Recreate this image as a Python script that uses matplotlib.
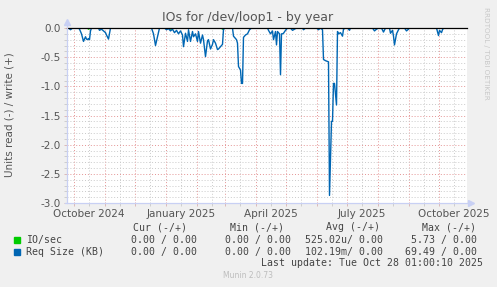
import matplotlib
matplotlib.use("Agg")
import matplotlib.pyplot as plt
import pandas as pd

# day offsets from the left edge of the graph (400 days shown)
req_day = [0, 2, 4, 6, 12, 13, 15, 17, 19, 20, 21, 22, 23, 24, 25,
           32, 33, 35, 37, 39, 40, 42, 44, 85, 87, 89, 91, 92, 93,
           98, 100, 102, 104, 106, 108, 110, 112, 114, 116, 117, 119, 121, 122,
           124, 126, 127, 129, 131, 132, 134, 136, 137, 139, 141, 142, 144, 146,
           147, 149, 151, 152, 154, 156, 157, 159, 166, 167, 170, 171, 172, 174,
           175, 176, 177, 179, 181, 183, 185, 201, 202, 204, 206, 207, 209, 210,
           211, 213, 214, 215, 216, 217, 219, 221, 224, 226, 228, 230, 236, 237,
           239, 250, 252, 254, 256, 257, 259, 262, 263, 265, 266, 267, 268, 270,
           271, 272, 274, 276, 277, 279, 281, 283, 284, 285, 306, 308, 310, 312,
           315, 317, 319, 323, 324, 326, 327, 328, 330, 332, 333, 338, 340, 342,
           343, 370, 372, 373, 375, 376, 377, 400]
req_read = [0, 0, -0.03, 0, 0, -0.02, -0.1, -0.23, -0.15, -0.19, -0.2, -0.18, -0.2, -0.05, 0,
            0, -0.04, -0.02, -0.05, -0.08, -0.12, -0.19, 0, 0, -0.1, -0.3, -0.15, -0.08, 0,
            0, -0.03, -0.01, -0.05, -0.02, -0.08, -0.04, -0.1, -0.05, -0.12, -0.32, -0.09, -0.23, -0.03,
            -0.23, -0.06, -0.15, -0.1, -0.23, -0.06, -0.26, -0.12, -0.2, -0.49, -0.22, -0.2, -0.36, -0.28,
            -0.2, -0.26, -0.37, -0.36, -0.32, -0.28, -0.02, 0, 0, -0.14, -0.2, -0.26, -0.66, -0.72,
            -0.95, -0.95, -0.16, -0.12, -0.1, -0.03, 0, 0, -0.04, -0.1, -0.05, -0.2, -0.06, -0.29,
            -0.06, -0.1, -0.8, -0.1, -0.1, -0.09, -0.04, 0, 0, -0.04, -0.02, 0, 0, -0.03,
            0, 0, -0.03, 0, -0.03, -0.54, -0.56, -0.58, -2.87, -1.6, -1.6, -0.95, -0.95, -1.32,
            -0.06, -0.1, -0.08, -0.14, -0.02, 0, 0, -0.04, 0, 0, 0, -0.05, -0.02, 0,
            0, -0.07, 0, 0, -0.09, -0.04, -0.14, -0.29, -0.1, -0.03, 0, 0, -0.05, -0.02,
            0, 0, -0.13, -0.04, -0.08, -0.03, 0, 0]

io_day = [0, 21, 22, 24, 103, 104, 106, 155, 156, 158, 400]
io_read = [0, 0, -0.02, 0, 0, -0.02, 0, 0, -0.02, 0, 0]

base = pd.Timestamp("2024-09-23 12:00")
req_dates = base + pd.to_timedelta(req_day, unit="D")
io_dates = base + pd.to_timedelta(io_day, unit="D")

month_starts = pd.date_range("2024-10-01", "2025-10-01", freq="MS")
mid_months = month_starts + pd.Timedelta(days=15)
mid_labels = [d.strftime("%B %Y") if d.month in (1, 4, 7, 10) else "" for d in mid_months]

legend_rows = ["IO/sec", "Req Size (KB)"]
legend_colors = ["#00CC00", "#0066B3"]
cur_vals = ["0.00 / 0.00", "0.00 / 0.00"]
min_vals = ["0.00 / 0.00", "0.00 / 0.00"]
avg_vals = ["525.02u/ 0.00", "102.19m/ 0.00"]
max_vals = ["5.73 / 0.00", "69.49 / 0.00"]

W, H = 497, 287
fig = plt.figure(figsize=(W / 100, H / 100), dpi=100, facecolor="#F0F0F0")
ax = fig.add_axes([66.5 / W, 1 - 203 / H, 400 / W, 175 / H])
ax.set_facecolor("white")

def fx(x):
    return x / W

def fy(y):
    return 1 - y / H

ax.plot(io_dates, io_read, color="#00CC00", lw=1.0)
ax.plot(req_dates, req_read, color="#0066B3", lw=1.0)
ax.axhline(0, color="black", lw=0.9, clip_on=False)

ax.set_xlim(base, base + pd.Timedelta(days=400))
ax.set_ylim(-3.0, 0.0)

# y grid
ax.set_yticks([-3.0, -2.5, -2.0, -1.5, -1.0, -0.5, 0.0])
ax.set_yticklabels(["-3.0", "-2.5", "-2.0", "-1.5", "-1.0", "-0.5", "0.0"])
ax.set_yticks([v / 10 for v in range(-30, 1)], minor=True)
# x grid
ax.set_xticks(month_starts)
ax.set_xticklabels([""] * len(month_starts))
ax.set_xticks(mid_months, minor=True)
ax.set_xticklabels(mid_labels, minor=True)

ax.grid(which="minor", color="#CACACA", lw=0.7, ls=(0, (1, 2)))
ax.grid(which="major", color="#E49494", lw=0.7, ls=(0, (1, 2)))
ax.set_axisbelow(True)

ax.tick_params(which="both", length=2.5, width=0.6, color="#D8B0B0", labelsize=7.5,
               labelcolor="#555555", pad=1.5)
ax.tick_params(axis="x", which="minor", color="#C8C8C8", pad=2)
ax.tick_params(axis="y", which="minor", length=2, color="#C8C8C8")

for s in ax.spines.values():
    s.set_visible(False)

axis_col = "#C8D0F4"
ax.plot([0, 0], [0, 1.03], transform=ax.transAxes, color=axis_col, lw=0.9, clip_on=False)
ax.plot([-0.005, 1.01], [0, 0], transform=ax.transAxes, color=axis_col, lw=0.9, clip_on=False)
ax.plot([0], [1.035], marker="^", ms=4.5, color=axis_col, transform=ax.transAxes, clip_on=False)
ax.plot([1.012], [0], marker=">", ms=4.5, color=axis_col, transform=ax.transAxes, clip_on=False)

fig.text(fx(10), fy(115), "Units read (-) / write (+)", rotation=90, ha="center", va="center",
         fontsize=7.5, color="#555555")
fig.text(fx(248), fy(18), "IOs for /dev/loop1 - by year", ha="center", va="center",
         fontsize=9, color="#555555")
fig.text(fx(486), fy(53), "RRDTOOL / TOBI OETIKER", rotation=270, ha="center", va="center",
         fontsize=5.2, color="#C8C8C8")

mono = "DejaVu Sans Mono"
lc = "#444444"
hy = fy(227)
for txt, xe in zip(["Cur (-/+)", "Min (-/+)", "Avg (-/+)", "Max (-/+)"], [187, 284, 380, 476]):
    fig.text(fx(xe), hy, txt, ha="right", va="center", family=mono, fontsize=7.1, color=lc)
for i, name in enumerate(legend_rows):
    y = 240 + i * 12
    fig.patches.append(plt.Rectangle((fx(14), fy(y + 3)), 6 / W, 6 / H, color=legend_colors[i],
                                     transform=fig.transFigure, figure=fig))
    fig.text(fx(26), fy(y), name, ha="left", va="center", family=mono, fontsize=7.1, color=lc)
    for vals, xe in zip([cur_vals, min_vals, avg_vals, max_vals], [197, 291, 383, 477]):
        fig.text(fx(xe), fy(y), vals[i], ha="right", va="center", family=mono, fontsize=7.1, color=lc)
fig.text(fx(483), fy(263), "Last update: Tue Oct 28 01:00:10 2025", ha="right", va="center",
         family=mono, fontsize=7.1, color=lc)
fig.text(fx(248), fy(276), "Munin 2.0.73", ha="center", va="center", fontsize=5.5, color="#BDBDBD")

fig.savefig("out.png", dpi=100, facecolor=fig.get_facecolor())
